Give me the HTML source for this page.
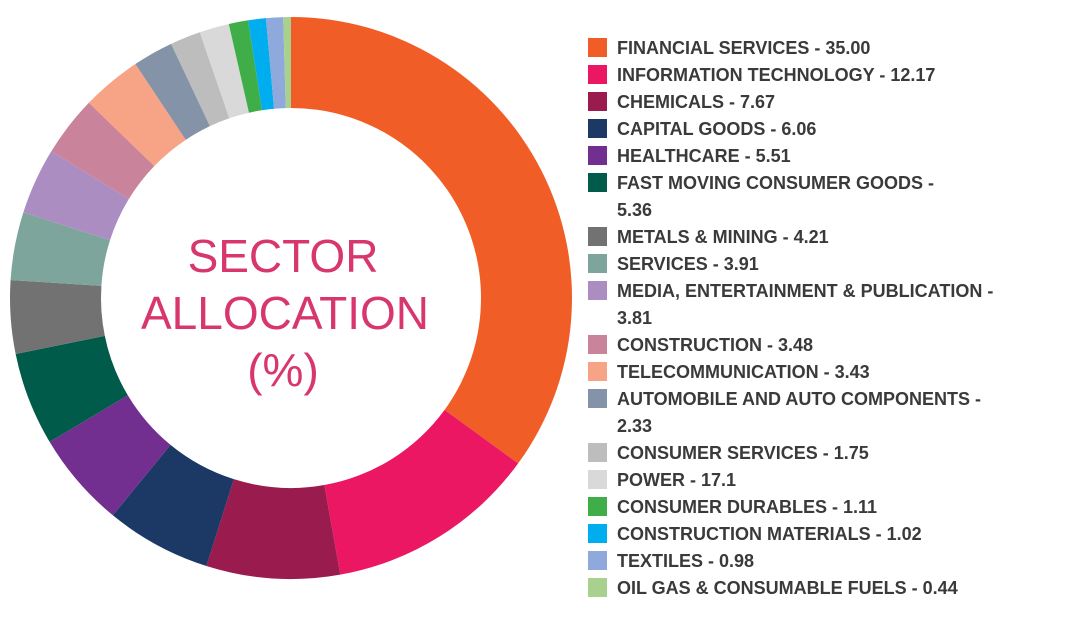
<!DOCTYPE html>
<html><head><meta charset="utf-8"><style>
body{margin:0;background:#fff;width:1076px;height:623px;overflow:hidden}
svg{display:block}
.lg{font-family:"Liberation Sans",sans-serif;font-size:18px;font-weight:bold;fill:#3a3a3a}
.ct{font-family:"Liberation Sans",sans-serif;font-size:46px;fill:#d8366e}
</style></head><body>
<svg id="chart" width="1076" height="623" xmlns="http://www.w3.org/2000/svg">
<g id="slices"></g>
<g>
<text class="ct" x="283" y="272" text-anchor="middle">SECTOR</text>
<text class="ct" x="285" y="329" text-anchor="middle">ALLOCATION</text>
<text class="ct" x="283" y="386" text-anchor="middle">(%)</text>
</g>
<g id="legend"></g>
</svg>
<script>
const categories=["FINANCIAL SERVICES","INFORMATION TECHNOLOGY","CHEMICALS","CAPITAL GOODS","HEALTHCARE","FAST MOVING CONSUMER GOODS","METALS & MINING","SERVICES","MEDIA, ENTERTAINMENT & PUBLICATION","CONSTRUCTION","TELECOMMUNICATION","AUTOMOBILE AND AUTO COMPONENTS","CONSUMER SERVICES","POWER","CONSUMER DURABLES","CONSTRUCTION MATERIALS","TEXTILES","OIL GAS & CONSUMABLE FUELS"];
const values=[35.00,12.17,7.67,6.06,5.51,5.36,4.21,3.91,3.81,3.48,3.43,2.33,1.75,1.71,1.11,1.02,0.98,0.44];
const labels=["35.00","12.17","7.67","6.06","5.51","5.36","4.21","3.91","3.81","3.48","3.43","2.33","1.75","17.1","1.11 ","1.02","0.98","0.44"];
const colors=["#f15d27","#ec1763","#9a1b4e","#1c3864","#722f90","#005b4a","#727272","#7ea59c","#ab8dc1","#c9839b","#f7a386","#8593a9","#bdbdbd","#d9d9d9","#3fae49","#00aeef","#8fa9dc","#a9d18e"];
const wrapAt={5:["FAST MOVING CONSUMER GOODS -","5.36"],8:["MEDIA, ENTERTAINMENT & PUBLICATION -","3.81"],11:["AUTOMOBILE AND AUTO COMPONENTS -","2.33"]};
const NS="http://www.w3.org/2000/svg";
const cx=291,cy=298,R=281,r=190;
const total=values.reduce((a,b)=>a+b,0);
const sg=document.getElementById('slices');
let a0=0;
function pt(a,rad){return [cx+rad*Math.sin(a),cy-rad*Math.cos(a)];}
values.forEach((v,i)=>{
  const a1=a0+v/total*2*Math.PI;
  const [x0,y0]=pt(a0,R),[x1,y1]=pt(a1,R),[x2,y2]=pt(a1,r),[x3,y3]=pt(a0,r);
  const lg=(a1-a0)>Math.PI?1:0;
  const p=document.createElementNS(NS,'path');
  p.setAttribute('d',`M${x0},${y0}A${R},${R} 0 ${lg} 1 ${x1},${y1}L${x2},${y2}A${r},${r} 0 ${lg} 0 ${x3},${y3}Z`);
  p.setAttribute('fill',colors[i]);
  
  
  sg.appendChild(p);
  a0=a1;
});
const lgEl=document.getElementById('legend');
let y=47;
categories.forEach((c,i)=>{
  const g=document.createElementNS(NS,'g');
  
  
  const s=document.createElementNS(NS,'rect');
  s.setAttribute('x',588);s.setAttribute('y',y-9);s.setAttribute('width',19);s.setAttribute('height',19);
  s.setAttribute('fill',colors[i]);
  g.appendChild(s);
  const lines=wrapAt[i]||[c+" - "+labels[i]];
  lines.forEach((ln,k)=>{
    const t=document.createElementNS(NS,'text');
    t.setAttribute('class','lg');t.setAttribute('x',617);t.setAttribute('y',y+7+k*27);
    t.textContent=ln;g.appendChild(t);
  });
  y+=27*lines.length;
  lgEl.appendChild(g);
});
</script>
</body></html>
